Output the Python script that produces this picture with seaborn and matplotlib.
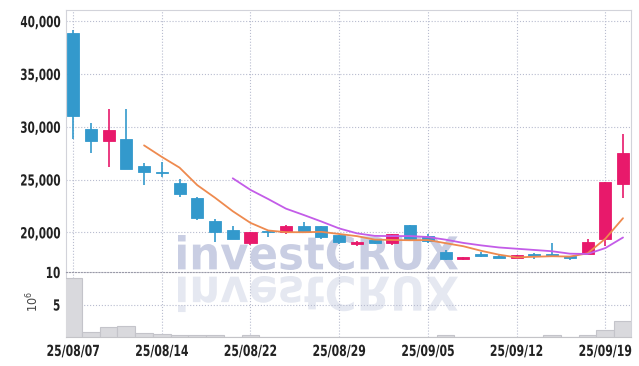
import numpy as np
import pandas as pd
import matplotlib
matplotlib.use("Agg")
import matplotlib.pyplot as plt
import seaborn as sns
from matplotlib.textpath import TextPath
from matplotlib.patches import PathPatch
from matplotlib.font_manager import FontProperties
from matplotlib.transforms import Affine2D, IdentityTransform
from matplotlib.patheffects import AbstractPathEffect

dates = ["25/08/07", "25/08/08", "25/08/11", "25/08/12", "25/08/13", "25/08/14",
         "25/08/18", "25/08/19", "25/08/20", "25/08/21", "25/08/22",
         "25/08/25", "25/08/26", "25/08/27", "25/08/28", "25/08/29",
         "25/09/01", "25/09/02", "25/09/03", "25/09/04", "25/09/05",
         "25/09/08", "25/09/09", "25/09/10", "25/09/11", "25/09/12",
         "25/09/15", "25/09/16", "25/09/17", "25/09/18", "25/09/19", "25/09/22"]
opens = [38900, 29810, 28680, 28870, 26310, 25650, 24700, 23290, 21080, 20240, 19000,
         20050, 20000, 20600, 20600, 19720, 18900, 19250, 18980, 20660, 19620,
         18100, 17480, 17980, 17790, 17570, 17830, 17800, 17720, 17980, 19350, 24550]
closes = [31040, 28680, 29690, 26030, 25740, 25590, 23600, 21400, 20070, 19360, 20070,
          20000, 20600, 20050, 19530, 19060, 18980, 18970, 19870, 19400, 19150,
          17500, 17520, 17720, 17570, 17850, 17800, 17770, 17570, 19090, 24740, 27540]
highs = [39150, 30320, 31650, 31650, 26600, 26690, 25020, 23380, 21240, 20560, 20070,
         20220, 20700, 20950, 20600, 19780, 19150, 19300, 19870, 20660, 19870,
         18290, 17630, 18140, 17850, 17850, 18040, 18970, 17720, 19340, 24740, 29280]
lows = [28840, 27480, 26160, 26030, 24510, 25270, 23320, 21170, 19130, 19360, 18810,
        19590, 19810, 20000, 19400, 18900, 18750, 18900, 18760, 19300, 18980,
        17400, 17380, 17630, 17550, 17570, 17500, 17700, 17350, 17820, 18690, 23280]
volume_m = [9.05, 0.76, 1.5, 1.67, 0.6, 0.45, 0.3, 0.3, 0.25, 0.02, 0.25,
            0.02, 0.02, 0.02, 0.02, 0.02, 0.02, 0.02, 0.02, 0.02, 0.02,
            0.25, 0.02, 0.02, 0.02, 0.02, 0.02, 0.25, 0.02, 0.3, 1.06, 2.4]
price_ticks = [20000, 25000, 30000, 35000, 40000]
vol_ticks = [5, 10]

UP = "#e8196b"
DOWN = "#3399cc"


class Squeeze(AbstractPathEffect):
    """Compress text glyphs horizontally (narrow display font look)."""

    def __init__(self, sx, anchor="center"):
        super().__init__()
        self.sx = sx
        self.anchor = anchor

    def draw_path(self, renderer, gc, tpath, affine, rgbFace=None):
        ext = tpath.get_extents()
        if self.anchor == "right":
            cx = ext.x1
        elif self.anchor == "left":
            cx = ext.x0
        else:
            cx = (ext.x0 + ext.x1) / 2
        t = Affine2D().translate(-cx, 0).scale(self.sx, 1).translate(cx, 0)
        renderer.draw_path(gc, tpath, t + affine, rgbFace)


df = pd.DataFrame({"i": np.arange(len(dates)), "date": dates, "open": opens,
                   "close": closes, "high": highs, "low": lows, "vol": volume_m})
df["ma5"] = df["close"].rolling(5).mean()
df["ma10"] = df["close"].rolling(10).mean()

sns.set_theme(style="white")
plt.rcParams["font.family"] = ["DejaVu Sans"]
plt.rcParams["font.stretch"] = "condensed"

W, H = 639, 366
fig = plt.figure(figsize=(W / 100, H / 100), dpi=100)
fig.patch.set_facecolor("white")
L, R, T, MID, B = 66, 631, 10, 272, 337
axp = fig.add_axes([L / W, 1 - MID / H, (R - L) / W, (MID - T) / H])
axv = fig.add_axes([L / W, 1 - B / H, (R - L) / W, (B - MID) / H])
for ax in (axp, axv):
    ax.set_facecolor("none")

# watermark (main + mirrored reflection), drawn in pixel space
fp = FontProperties(family="DejaVu Sans", weight="bold", stretch="normal")
tp = TextPath((0, 0), "investCRUX", size=1, prop=fp)
ext = tp.get_extents()
sx = (458 - 178) / ext.width
sy = 35 / ext.height
tr_main = Affine2D().translate(-ext.x0, -ext.y0).scale(sx, sy).translate(178, H - 270)
tr_ref = Affine2D().translate(-ext.x0, -ext.y0).scale(sx, -sy * 1.03).translate(178, H - 276)
fig.add_artist(PathPatch(tr_main.transform_path(tp), facecolor="#c9cee3",
                         edgecolor="none", zorder=-1, transform=IdentityTransform()))
fig.add_artist(PathPatch(tr_ref.transform_path(tp), facecolor="#e5e8f1",
                         edgecolor="none", zorder=-1, transform=IdentityTransform()))

# candles
cols = [UP if c > o else DOWN for o, c in zip(opens, closes)]
axp.vlines(df["i"], df["low"], df["high"], colors=cols, lw=1.2, zorder=3)
body_bottom = np.minimum(df["open"], df["close"])
body_h = np.maximum(np.abs(df["close"] - df["open"]), 150)
axp.bar(df["i"], body_h, bottom=body_bottom, width=0.68, color=cols,
        edgecolor=cols, linewidth=0.6, zorder=4)

sns.lineplot(data=df, x="i", y="ma5", ax=axp, color="#ee8a4f", lw=1.3, zorder=5)
sns.lineplot(data=df, x="i", y="ma10", ax=axp, color="#c35ce8", lw=1.3, zorder=5)

# volume
sns.barplot(x=df["i"], y=df["vol"], ax=axv, color="#d9d9dd", edgecolor="#c4c4ca",
            linewidth=0.8, width=1, saturation=1, zorder=3)

xmin, xmax = -0.4, 31.45
tick_idx = list(range(0, len(dates), 5))
for ax in (axp, axv):
    ax.set_xlim(xmin, xmax)
    ax.set_xticks(tick_idx)
    ax.grid(True, ls=":", color="#b8bccf", lw=0.8)
    ax.set_axisbelow(True)
    ax.set_xlabel("")
    ax.set_ylabel("")
    for s in ax.spines.values():
        s.set_color("#d2d3da")
        s.set_linewidth(0.8)
    ax.tick_params(length=0, labelsize=11, labelcolor="#222222")

axp.set_ylim(16250, 41050)
axp.set_yticks(price_ticks)
axp.set_yticklabels([f"{v:,}" for v in price_ticks], fontweight="bold")
axp.set_xticklabels([])
axp.spines["bottom"].set_visible(False)
axp.tick_params(axis="y", pad=4)

axv.set_ylim(0, 10)
axv.set_yticks(vol_ticks)
axv.set_yticklabels([str(v) for v in vol_ticks], fontweight="bold")
axv.set_xticklabels([dates[i] for i in tick_idx], fontweight="bold")
axv.spines["top"].set_color("#9a9aa8")
axv.spines["top"].set_linestyle(":")
axv.spines["bottom"].set_color("#c4c4c8")
axv.tick_params(axis="x", pad=5)
axv.tick_params(axis="y", pad=4)

for lbl in axp.get_yticklabels() + axv.get_yticklabels():
    lbl.set_path_effects([Squeeze(0.76, "right")])
for lbl in axv.get_xticklabels():
    lbl.set_path_effects([Squeeze(0.79, "center")])

fig.text(33 / W, 1 - 302 / H, "$10^6$", rotation=90, ha="center", va="center",
         fontsize=9, color="#444444", family="DejaVu Sans", fontstretch="normal")

fig.savefig("out.png", dpi=100, facecolor="white")
